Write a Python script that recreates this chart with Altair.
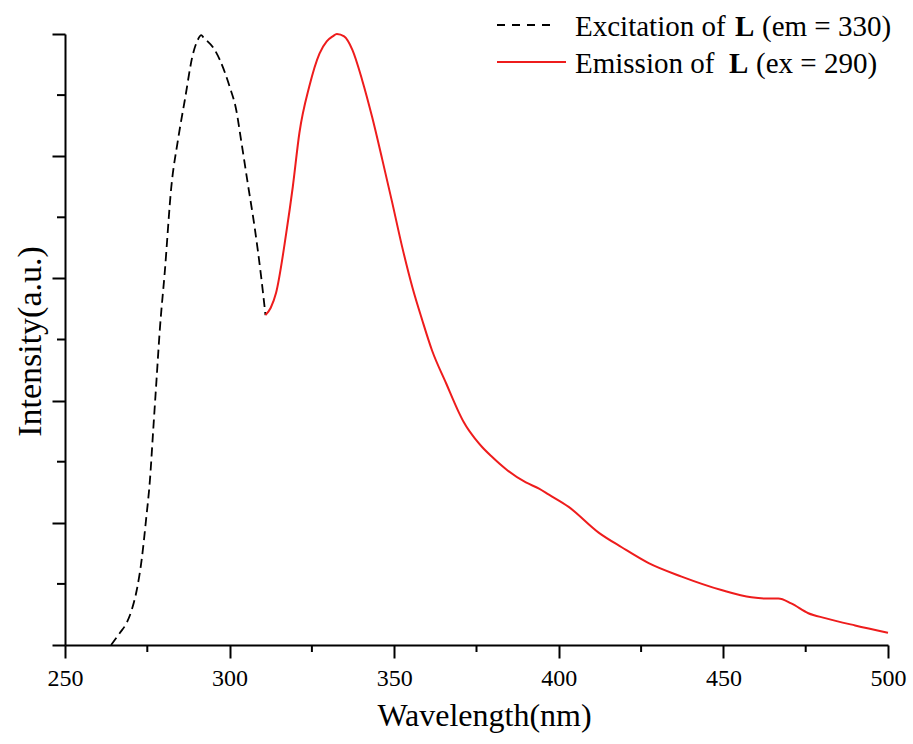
import altair as alt
import pandas as pd

# ---- data ----
ex_wl = [264.0, 266.7, 268.7, 270.3, 271.8, 273.3, 274.6, 275.8, 276.8, 277.8, 278.8, 280.3,
         282.3, 284.3, 286.4, 288.9, 290.3, 291.4, 292.1, 292.9, 295.0, 297.0, 300.0, 302.0,
         303.5, 305.5, 307.6, 309.6, 310.9]
ex_int = [0.00, 0.10, 0.18, 0.29, 0.45, 0.70, 1.02, 1.35, 1.76, 2.17, 2.58, 3.05,
          3.75, 4.13, 4.46, 4.84, 4.95, 4.99, 4.97, 4.95, 4.89, 4.79, 4.57, 4.38,
          4.13, 3.78, 3.42, 3.01, 2.70]

em_wl = [310.9, 312.5, 314.1, 317.2, 319.2, 321.2, 324.2, 327.3, 329.5, 331.3, 332.6, 334.8, 337.3,
         340.3, 343.3, 346.4, 349.4, 352.4, 355.5, 358.5, 361.5, 365.8, 369.7, 371.2,
         374.8, 376.7, 379.7, 383.9, 390.0, 394.0, 397.0, 403.0, 412.1, 419.1, 427.3, 437.3,
         449.4, 458.5, 463.0, 466.7, 470.6, 475.8, 480.9, 490.0, 500.0]
em_int = [2.70, 2.76, 2.88, 3.37, 3.75, 4.19, 4.57, 4.84, 4.94, 4.98, 5.00, 4.98, 4.87,
          4.62, 4.32, 3.97, 3.62, 3.26, 2.93, 2.66, 2.41, 2.14, 1.90, 1.82,
          1.68, 1.62, 1.54, 1.44, 1.33, 1.28, 1.23, 1.13, 0.92, 0.80, 0.67, 0.56,
          0.45, 0.39, 0.38, 0.38, 0.34, 0.26, 0.22, 0.16, 0.10]

x_major = [250, 300, 350, 400, 450, 500]
x_minor = [275, 325, 375, 425, 475]
y_major = [0, 1, 2, 3, 4, 5]
y_minor = [0.5, 1.5, 2.5, 3.5, 4.5]

x_title = "Wavelength(nm)"
y_title = "Intensity(a.u.)"
leg1 = ["Excitation of", "L", "(em = 330)"]
leg2 = ["Emission of", "L", "(ex = 290)"]

# ---- styling ----
W, H = 823, 611
FONT = "Liberation Serif"
RED = "#ee1c1c"

xs = alt.Scale(domain=[250, 500], nice=False, zero=False)
ys = alt.Scale(domain=[0, 5], nice=False, zero=False)

x_axis = alt.Axis(values=x_major, tickSize=13, labelPadding=27, labelBaseline="alphabetic",
                  labelFlush=False, labelOverlap=False, labelFontSize=24,
                  title=x_title, titleX=419, titleY=80, titleBaseline="alphabetic",
                  titleAlign="center", titleFontSize=32, grid=False)
y_axis = alt.Axis(values=y_major, tickSize=13, labels=False, title=y_title,
                  titleX=-25, titleY=307, titleBaseline="alphabetic", titleAlign="center",
                  titleAngle=270, titleFontSize=34, grid=False)

ex_df = pd.DataFrame({"wl": ex_wl, "I": ex_int})
em_df = pd.DataFrame({"wl": em_wl, "I": em_int})

ex_line = alt.Chart(ex_df).mark_line(color="black", strokeWidth=1.8, strokeDash=[9, 5],
                                     interpolate="monotone").encode(
    x=alt.X("wl:Q", scale=xs, axis=x_axis),
    y=alt.Y("I:Q", scale=ys, axis=y_axis),
    order="wl:Q",
)
em_line = alt.Chart(em_df).mark_line(color=RED, strokeWidth=2, interpolate="monotone").encode(
    x=alt.X("wl:Q", scale=xs, axis=x_axis),
    y=alt.Y("I:Q", scale=ys, axis=y_axis),
    order="wl:Q",
)

xmin = alt.Chart(pd.DataFrame({"wl": x_minor})).mark_rule(color="black", strokeWidth=2).encode(
    x=alt.X("wl:Q", scale=xs, axis=x_axis), y=alt.value(H), y2=alt.value(H + 7))
ymin = alt.Chart(pd.DataFrame({"I": y_minor})).mark_rule(color="black", strokeWidth=2).encode(
    y=alt.Y("I:Q", scale=ys, axis=y_axis), x=alt.value(-8), x2=alt.value(0))

one = pd.DataFrame({"k": [0]})
leg_dash = alt.Chart(one).mark_rule(color="black", strokeWidth=1.8, strokeDash=[8, 7]).encode(
    x=alt.value(432), x2=alt.value(487), y=alt.value(-9))
leg_red = alt.Chart(one).mark_rule(color=RED, strokeWidth=2).encode(
    x=alt.value(432), x2=alt.value(501), y=alt.value(28))


def txt(s, x, y, bold=False):
    return alt.Chart(one).mark_text(font=FONT, fontSize=29, align="left", baseline="alphabetic",
                                    color="black", fontWeight="bold" if bold else "normal").encode(
        x=alt.value(x), y=alt.value(y), text=alt.value(s))


legend = [
    txt(leg1[0], 510, 2), txt(leg1[1], 670, 2, True), txt(leg1[2], 697, 2),
    txt(leg2[0], 510, 39), txt(leg2[1], 664, 39, True), txt(leg2[2], 691, 39),
]

chart = alt.layer(ex_line, em_line, xmin, ymin, leg_dash, leg_red, *legend).properties(
    width=W, height=H,
    autosize=alt.AutoSizeParams(type="none"),
    padding={"left": 65, "top": 34, "right": 25, "bottom": 99},
    background="white",
).configure_view(stroke=None).configure_axis(
    domainColor="black", domainWidth=2, tickColor="black", tickWidth=2,
    labelFont=FONT, labelColor="black",
    titleFont=FONT, titleFontWeight="normal", titleColor="black",
)

chart.save("out.html", embed_options={"renderer": "svg", "actions": False})
